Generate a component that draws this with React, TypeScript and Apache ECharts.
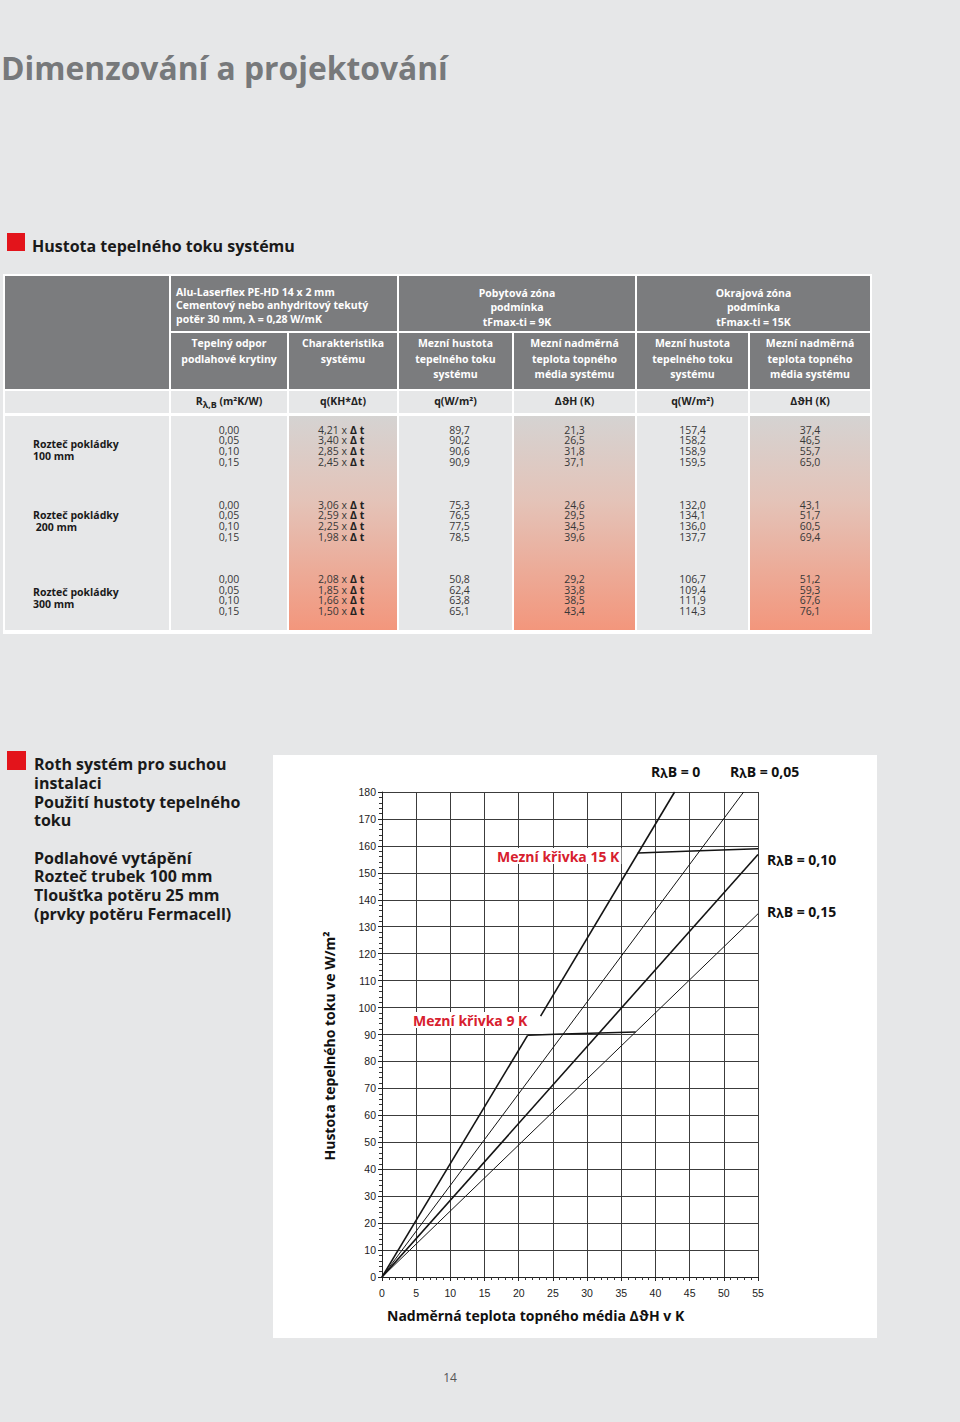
import React, { useEffect, useRef } from "react";
import * as echarts from "echarts";

// ---------- DATA ----------
const pageTitle = "Dimenzování a projektování";
const sectionTitle = "Hustota tepelného toku systému";

const spacingLabels = ["Rozteč pokládky\n100 mm", "Rozteč pokládky\n 200 mm", "Rozteč pokládky\n300 mm"];
const resistances = ["0,00", "0,05", "0,10", "0,15"];
const characteristic = [
  ["4,21", "3,40", "2,85", "2,45"],
  ["3,06", "2,59", "2,25", "1,98"],
  ["2,08", "1,85", "1,66", "1,50"],
];
const q9K = [
  ["89,7", "90,2", "90,6", "90,9"],
  ["75,3", "76,5", "77,5", "78,5"],
  ["50,8", "62,4", "63,8", "65,1"],
];
const dt9K = [
  ["21,3", "26,5", "31,8", "37,1"],
  ["24,6", "29,5", "34,5", "39,6"],
  ["29,2", "33,8", "38,5", "43,4"],
];
const q15K = [
  ["157,4", "158,2", "158,9", "159,5"],
  ["132,0", "134,1", "136,0", "137,7"],
  ["106,7", "109,4", "111,9", "114,3"],
];
const dt15K = [
  ["37,4", "46,5", "55,7", "65,0"],
  ["43,1", "51,7", "60,5", "69,4"],
  ["51,2", "59,3", "67,6", "76,1"],
];

// chart data (x = ΔϑH in K, y = q in W/m²)
const xMin = 0, xMax = 55, xStep = 5;
const yMin = 0, yMax = 180, yStep = 10;
const curveR000a = [[0, 0], [21.3, 89.7]];
const curveR000b = [[23.2, 96.8], [42.8, 180]];
const curveR005 = [[0, 0], [52.9, 180]];
const curveR010 = [[0, 0], [55, 156.8]];
const curveR015 = [[0, 0], [55, 134.8]];
const limit9K = [[21.3, 89.7], [26.5, 90.2], [31.8, 90.6], [37.1, 90.9]];
const limit15K = [[37.4, 157.4], [46.5, 158.2], [55, 158.9]];

const legendR = ["0", "0,05", "0,10", "0,15"];
const yAxisTitle = "Hustota tepelného toku ve W/m²";
const xAxisTitle = "Nadměrná teplota topného média ΔϑH v K";
const limit15Label = "Mezní křivka 15 K";
const limit9Label = "Mezní křivka 9 K";

// ---------- STYLE ----------
const FONT = "'Open Sans', 'Noto Sans', 'DejaVu Sans', sans-serif";
const AXIS_FONT = "'Liberation Sans', Arial, sans-serif";
const PAGE_BG = "#e6e7e8";
const HEAD_BG = "#7b7c7e";
const RED = "#e3141b";
const GRAD = "linear-gradient(180deg, #d5d3d2 0%, #e4c3b8 40%, #f3967c 100%)";

function Chart() {
  const ref = useRef<HTMLDivElement>(null);
  useEffect(() => {
    const chart = echarts.init(ref.current!, null, { renderer: "svg" });
    const ln = (data: number[][], width: number) => ({
      type: "line",
      data,
      symbol: "none",
      showSymbol: false,
      silent: true,
      lineStyle: { color: "#141414", width },
      z: 3,
    });
    const richLegend = (val: string, x: number, y: number) => ({
      type: "text",
      x,
      y,
      z: 100,
      style: {
        text: `{a|R}{b|λ}{a|B = ${val}}`,
        verticalAlign: "middle",
        textVerticalAlign: "middle",
        rich: {
          a: { fontSize: 14, fontWeight: "bold", fontFamily: FONT, fill: "#111", color: "#111" },
          b: { fontSize: 12, fontWeight: "bold", fontFamily: FONT, fill: "#111", color: "#111", padding: [5, 0, 0, 0] },
        },
      },
    });
    const axisCommon = {
      type: "value",
      axisLine: { show: true, lineStyle: { color: "#222", width: 1 } },
      axisTick: { show: true, length: 4, lineStyle: { color: "#222" } },
      minorTick: { show: true, splitNumber: 5, length: 3, lineStyle: { color: "#333" } },
      splitLine: { show: true, lineStyle: { color: "#3c3c3c", width: 1 } },
    };
    chart.setOption({
      animation: false,
      backgroundColor: "#ffffff",
      grid: { left: 109, right: 119, top: 37, bottom: 61 },
      xAxis: {
        ...axisCommon,
        min: xMin,
        max: xMax,
        interval: xStep,
        axisLabel: { color: "#222", fontSize: 10.5, fontFamily: AXIS_FONT, margin: 10 },
      },
      yAxis: {
        ...axisCommon,
        min: yMin,
        max: yMax,
        interval: yStep,
        axisLabel: { color: "#222", fontSize: 10.5, fontFamily: AXIS_FONT, margin: 6 },
      },
      series: [
        ln(curveR000a, 1.6),
        ln(curveR000b, 1.6),
        ln(curveR005, 1.0),
        ln(curveR010, 1.6),
        ln(curveR015, 1.0),
        ln(limit9K, 1.5),
        ln(limit15K, 1.5),
      ],
      graphic: [
        richLegend(legendR[0], 378, 16),
        richLegend(legendR[1], 457, 16),
        richLegend(legendR[2], 494, 104),
        richLegend(legendR[3], 494, 156),
        {
          type: "text",
          x: 222,
          y: 101,
          z: 100,
          style: {
            text: limit15Label,
            fill: "#d7202e",
            font: `bold 14px ${FONT}`,
            verticalAlign: "middle",
            textVerticalAlign: "middle",
            backgroundColor: "#ffffff",
            padding: [1, 2, 1, 2],
          },
        },
        {
          type: "text",
          x: 138,
          y: 265,
          z: 100,
          style: {
            text: limit9Label,
            fill: "#d7202e",
            font: `bold 14px ${FONT}`,
            verticalAlign: "middle",
            textVerticalAlign: "middle",
            backgroundColor: "#ffffff",
            padding: [1, 2, 1, 2],
          },
        },
        {
          type: "text",
          x: 56,
          y: 291,
          rotation: Math.PI / 2,
          z: 100,
          style: {
            text: yAxisTitle,
            fill: "#111",
            font: `bold 14px ${FONT}`,
            align: "center",
            textAlign: "center",
            verticalAlign: "middle",
            textVerticalAlign: "middle",
          },
        },
        {
          type: "text",
          x: 114,
          y: 560,
          z: 100,
          style: {
            text: xAxisTitle,
            fill: "#111",
            font: `bold 14px ${FONT}`,
            verticalAlign: "middle",
            textVerticalAlign: "middle",
          },
        },
      ],
    });
    return () => chart.dispose();
  }, []);
  return <div ref={ref} style={{ position: "absolute", left: 273, top: 755, width: 604, height: 583 }} />;
}

const colX = [5, 171, 289, 399, 514, 637, 750];
const colW = [164, 116, 108, 113, 121, 111, 120];
const valueTops = [424.6, 499.6, 574];
const labelTops = [437.8, 508.8, 585.5];

function Box(props: { x: number; y: number; w: number; h: number; bg: string; children?: any; style?: any }) {
  return (
    <div
      style={{
        position: "absolute",
        left: props.x,
        top: props.y,
        width: props.w,
        height: props.h,
        background: props.bg,
        boxSizing: "border-box",
        ...props.style,
      }}
    >
      {props.children}
    </div>
  );
}

function Table() {
  const headText = { color: "#fff", fontWeight: 700, fontSize: 10.5, textAlign: "center" as const };
  const unitText = { color: "#222", fontWeight: 700, fontSize: 10.5, textAlign: "center" as const, lineHeight: "20px" };
  const row2 = [
    "Tepelný odpor\npodlahové krytiny",
    "Charakteristika\nsystému",
    "Mezní hustota\ntepelného toku\nsystému",
    "Mezní nadměrná\nteplota topného\nmédia systému",
    "Mezní hustota\ntepelného toku\nsystému",
    "Mezní nadměrná\nteplota topného\nmédia systému",
  ];
  const units = [
    <span>
      R<span style={{ fontSize: "0.85em", position: "relative", top: "0.3em" }}>λ,B</span> (m²K/W)
    </span>,
    <span>q(KH*Δt)</span>,
    <span>q(W/m²)</span>,
    <span>ΔϑH (K)</span>,
    <span>q(W/m²)</span>,
    <span>ΔϑH (K)</span>,
  ];
  const plainCols = [null, null, q9K, dt9K, q15K, dt15K];
  const offsets = [0, 0, 4, 0, 0, 0];
  const valStyle = {
    position: "absolute" as const,
    fontSize: 10.5,
    lineHeight: "10.7px",
    color: "#383838",
    whiteSpace: "pre" as const,
  };
  return (
    <>
      <Box x={3} y={274} w={869} h={360} bg="#ffffff" />
      {/* header row 1 */}
      <Box x={colX[0]} y={276} w={colW[0]} h={113} bg={HEAD_BG} />
      <Box x={colX[1]} y={276} w={colW[1] + colW[2] + 2} h={55} bg={HEAD_BG}
        style={{ ...headText, textAlign: "left", paddingLeft: 5, paddingTop: 10, lineHeight: "13.4px", whiteSpace: "pre" }}>
        {"Alu-Laserflex PE-HD 14 x 2 mm\nCementový nebo anhydritový tekutý\npotěr 30 mm, λ = 0,28 W/mK"}
      </Box>
      <Box x={colX[3]} y={276} w={colW[3] + colW[4] + 2} h={55} bg={HEAD_BG}
        style={{ ...headText, paddingTop: 9.5, lineHeight: "14.7px", whiteSpace: "pre" }}>
        {"Pobytová zóna\npodmínka\ntFmax-ti = 9K"}
      </Box>
      <Box x={colX[5]} y={276} w={colW[5] + colW[6] + 2} h={55} bg={HEAD_BG}
        style={{ ...headText, paddingTop: 9.5, lineHeight: "14.7px", whiteSpace: "pre" }}>
        {"Okrajová zóna\npodmínka\ntFmax-ti = 15K"}
      </Box>
      {/* header row 2 */}
      {row2.map((t, i) => (
        <Box key={"r2" + i} x={colX[i + 1]} y={333} w={colW[i + 1]} h={56} bg={HEAD_BG}
          style={{ ...headText, paddingTop: 3.4, lineHeight: "15.2px", whiteSpace: "pre" }}>
          {t}
        </Box>
      ))}
      {/* units row */}
      <Box x={colX[0]} y={391} w={colW[0]} h={22} bg={PAGE_BG} />
      {units.map((u, i) => (
        <Box key={"u" + i} x={colX[i + 1]} y={391} w={colW[i + 1]} h={22} bg={PAGE_BG} style={{ ...unitText, paddingTop: 0 }}>
          {u}
        </Box>
      ))}
      {/* body */}
      {colX.map((x, i) => (
        <Box key={"b" + i} x={x} y={416} w={colW[i]} h={214} bg={i === 2 || i === 4 || i === 6 ? GRAD : PAGE_BG} />
      ))}
      {spacingLabels.map((l, g) => (
        <div key={"l" + g}
          style={{ position: "absolute", left: 33, top: labelTops[g], whiteSpace: "pre", fontWeight: 700, fontSize: 10.5, lineHeight: "12.3px", color: "#1a1a1a" }}>
          {l}
        </div>
      ))}
      {[0, 1, 2].map((g) => (
        <React.Fragment key={"g" + g}>
          <div style={{ ...valStyle, left: colX[1], top: valueTops[g], width: colW[1], textAlign: "center" }}>
            {resistances.join("\n")}
          </div>
          <div style={{ ...valStyle, left: colX[2] + 8, top: valueTops[g], width: 50, textAlign: "right" }}>
            {characteristic[g].map((v) => v + " x").join("\n")}
          </div>
          <div style={{ ...valStyle, left: colX[2] + 61, top: valueTops[g], width: 30, textAlign: "left", fontWeight: 700, color: "#222" }}>
            {characteristic[g].map(() => "Δ t").join("\n")}
          </div>
          {plainCols.map((col, c) =>
            col ? (
              <div key={"v" + c}
                style={{ ...valStyle, left: colX[c + 1] + offsets[c], top: valueTops[g], width: colW[c + 1], textAlign: "center" }}>
                {col[g].join("\n")}
              </div>
            ) : null
          )}
        </React.Fragment>
      ))}
    </>
  );
}

export default function App() {
  return (
    <div
      style={{
        position: "absolute",
        left: 0,
        top: 0,
        width: 960,
        height: 1422,
        background: PAGE_BG,
        overflow: "hidden",
        fontFamily: FONT,
      }}
    >
      <div style={{ position: "absolute", left: 1, top: 52, fontSize: 31.8, lineHeight: "31.8px", fontWeight: 700, color: "#77797b", whiteSpace: "pre" }}>
        {pageTitle}
      </div>
      <div style={{ position: "absolute", left: 7, top: 233, width: 18, height: 18, background: RED }} />
      <div style={{ position: "absolute", left: 32, top: 238, fontSize: 16, lineHeight: "16px", fontWeight: 700, color: "#1a1a1a", whiteSpace: "pre" }}>
        {sectionTitle}
      </div>
      <Table />
      <div style={{ position: "absolute", left: 7, top: 751, width: 19, height: 19, background: RED }} />
      <div style={{ position: "absolute", left: 34, top: 755.2, fontSize: 16, lineHeight: "18.67px", fontWeight: 700, color: "#1a1a1a", whiteSpace: "pre" }}>
        {"Roth systém pro suchou\ninstalaci\nPoužití hustoty tepelného\ntoku\n\nPodlahové vytápění\nRozteč trubek 100 mm\nTloušťka potěru 25 mm\n(prvky potěru Fermacell)"}
      </div>
      <div style={{ position: "absolute", left: 273, top: 755, width: 604, height: 583, background: "#fff" }} />
      <Chart />
      <div style={{ position: "absolute", left: 430, top: 1370, width: 40, textAlign: "center", fontSize: 12, lineHeight: "16px", color: "#555" }}>
        14
      </div>
    </div>
  );
}
